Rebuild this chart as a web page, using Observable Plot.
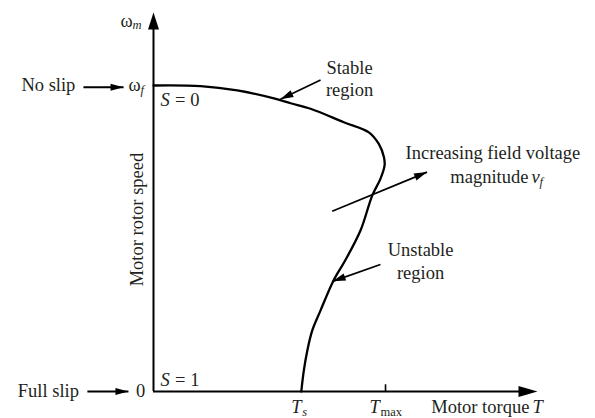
<!DOCTYPE html>
<html>
<head>
<meta charset="utf-8">
<script src="https://cdn.jsdelivr.net/npm/d3@7"></script>
<script src="https://cdn.jsdelivr.net/npm/@observablehq/plot@0.6"></script>
<style>
  html, body { margin: 0; padding: 0; background: #fff; }
</style>
</head>
<body>
<div id="chart"></div>
<script>
// ---- data ----
// Motor torque (T / Tmax) along the torque–speed curve
const torque = [0, 0.203, 0.361, 0.519, 0.591, 0.677, 0.820, 0.928, 0.971, 0.993, 0.996, 0.978, 0.943, 0.892, 0.826, 0.776, 0.720, 0.684, 0.663, 0.648, 0.637];
// Motor rotor speed (ω / ωf) at the same points
const speed  = [1.0, 0.998, 0.984, 0.958, 0.942, 0.924, 0.880, 0.847, 0.809, 0.766, 0.739, 0.695, 0.641, 0.526, 0.428, 0.363, 0.265, 0.199, 0.134, 0.069, 0];
// Torque axis marks
const torqueTickValues = [0.637, 1.0];
const torqueTickNames = ["T", "T"];
const torqueTickSubs = ["s", "max"];
// Speed axis marks
const speedTickValues = [0, 1];
const speedTickNames = ["0", "ω"];
const slipNames = ["Full slip", "No slip"];
const slipValues = ["S = 1", "S = 0"];

// ---- layout ----
const W = 595, H = 418;
const ML = 153, MR = 58, MT = 12, MB = 27;
const xMax = 1.655, yMax = 1.2386;
const FONT = "Liberation Serif";
const FS = 18.5, FSUB = 12.5;
const INK = "#231f20";

const sx = d3.scaleLinear([0, xMax], [ML, W - MR]);
const sy = d3.scaleLinear([0, yMax], [H - MB, MT]);

const curveData = torque.map((t, i) => ({t, w: speed[i]}));

// custom filled arrowhead symbol (tip at origin, pointing up)
const head = (L, Wd) => ({
  draw(ctx) { ctx.moveTo(0, 0); ctx.lineTo(Wd / 2, L); ctx.lineTo(-Wd / 2, L); ctx.closePath(); }
});
const angle = (a) => {
  const dx = sx(a.x2) - sx(a.x1), dy = sy(a.y2) - sy(a.y1);
  return Math.atan2(dx, -dy) * 180 / Math.PI;
};

// annotation arrows (tail -> tip)
const arrows = [
  {x1: 0.720, y1: 1.018, x2: 0.547, y2: 0.955},   // stable region
  {x1: 0.770, y1: 0.589, x2: 1.179, y2: 0.717},   // increasing vf
  {x1: 0.978, y1: 0.415, x2: 0.772, y2: 0.360},   // unstable region
];
const sideArrows = [
  {x1: -0.302, y1: 0.994, x2: -0.129, y2: 0.994}, // no slip
  {x1: -0.285, y1: 0.0, x2: -0.108, y2: 0.0}      // full slip
];

const txt = (x, y, text, o = {}) =>
  Plot.text([{x, y, text}], {x: "x", y: "y", text: "text", fontFamily: FONT, fontSize: FS, fill: INK, ...o});

const tickLabel = (i, dxT, dxSub) => [
  Plot.text([torqueTickValues[i]], {x: d => d, y: () => -0.05, text: () => torqueTickNames[i], dx: dxT,
    fontFamily: FONT, fontSize: FS, fontStyle: "italic", fill: INK}),
  Plot.text([torqueTickValues[i]], {x: d => d, y: () => -0.05, text: () => torqueTickSubs[i], dx: dxSub, dy: 5,
    textAnchor: "start", fontFamily: FONT, fontSize: FSUB, fill: INK,
    fontStyle: i === 0 ? "italic" : "normal"})
];

const marks = [
  // axes
  Plot.ruleY([0], {x1: 0, x2: xMax - 0.03, stroke: "#000", strokeWidth: 2}),
  Plot.ruleX([0], {y1: 0, y2: yMax - 0.03, stroke: "#000", strokeWidth: 2}),
  Plot.dot([{x: xMax, y: 0}], {x: "x", y: "y", symbol: head(19, 11), fill: "#000", stroke: "none", rotate: 90}),
  Plot.dot([{x: 0, y: yMax}], {x: "x", y: "y", symbol: head(17, 11), fill: "#000", stroke: "none", rotate: 0}),
  // Tmax tick
  Plot.ruleX([torqueTickValues[1]], {y1: 0, y2: 0.022, stroke: "#000", strokeWidth: 1.6}),
  // torque–speed curve
  Plot.line(curveData, {x: "t", y: "w", stroke: "#000", strokeWidth: 2.3, curve: "catmull-rom"}),
  // annotation arrows
  Plot.link(arrows, {x1: "x1", y1: "y1", x2: "x2", y2: "y2", stroke: "#000", strokeWidth: 1.7}),
  Plot.dot(arrows, {x: "x2", y: "y2", symbol: head(13, 7.5), fill: "#000", stroke: "none", rotate: angle}),
  Plot.link(sideArrows, {x1: "x1", y1: "y1", x2: "x2", y2: "y2", stroke: "#000", strokeWidth: 2}),
  Plot.dot(sideArrows, {x: "x2", y: "y2", symbol: head(13, 7), fill: "#000", stroke: "none", rotate: angle}),

  // region labels
  txt(0.845, 1.056, "Stable"),
  txt(0.845, 0.984, "region"),
  txt(1.463, 0.778, "Increasing field voltage"),
  txt(1.616, 0.700, "magnitude", {textAnchor: "end"}),
  txt(1.616, 0.700, "v", {textAnchor: "start", dx: 3, fontStyle: "italic"}),
  txt(1.616, 0.700, "f", {textAnchor: "start", dx: 11, dy: 5, fontStyle: "italic", fontSize: FSUB}),
  txt(1.151, 0.461, "Unstable"),
  txt(1.151, 0.386, "region"),

  // speed axis labels
  txt(-0.108, 1.212, "ω", {textAnchor: "start", dx: -8}),
  txt(-0.108, 1.212, "m", {textAnchor: "start", dx: 4, dy: 4, fontStyle: "italic", fontSize: FSUB}),
  txt(-0.082, speedTickValues[1], speedTickNames[1]),
  txt(-0.082, speedTickValues[1], "f", {textAnchor: "start", dx: 6, dy: 4, fontStyle: "italic", fontSize: FSUB}),
  txt(-0.056, speedTickValues[0], speedTickNames[0]),
  txt(-0.453, 1.0, slipNames[1]),
  txt(-0.453, 0.0, slipNames[0]),
  txt(0.030, 0.951, "S", {textAnchor: "start", fontStyle: "italic"}),
  txt(0.030, 0.951, slipValues[1].slice(1), {textAnchor: "start", dx: 10}),
  txt(0.030, 0.036, "S", {textAnchor: "start", fontStyle: "italic"}),
  txt(0.030, 0.036, slipValues[0].slice(1), {textAnchor: "start", dx: 10}),
  txt(-0.069, 0.562, "Motor rotor speed", {rotate: -90}),

  // torque axis labels
  ...tickLabel(0, -5, 1),
  ...tickLabel(1, -11, -5),
  txt(1.620, -0.052, "Motor torque", {textAnchor: "end"}),
  txt(1.620, -0.052, "T", {textAnchor: "start", dx: 3, fontStyle: "italic"})
];

const chart = Plot.plot({
  width: W, height: H,
  marginLeft: ML, marginRight: MR, marginTop: MT, marginBottom: MB,
  x: {domain: [0, xMax], axis: null},
  y: {domain: [0, yMax], axis: null},
  style: {background: "#fff", overflow: "visible"},
  marks
});
document.getElementById("chart").appendChild(chart);
</script>
</body>
</html>
